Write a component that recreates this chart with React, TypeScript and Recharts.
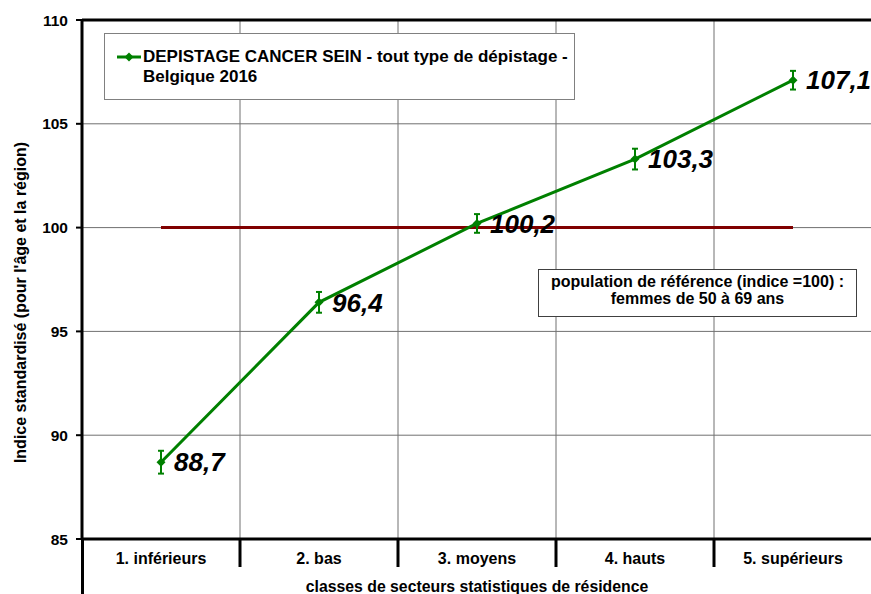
import {
  LineChart,
  Line,
  XAxis,
  YAxis,
  CartesianGrid,
  ReferenceLine,
  ErrorBar,
  LabelList,
  Legend,
} from "recharts"

const categories = ["1. inférieurs", "2. bas", "3. moyens", "4. hauts", "5. supérieurs"]
const indexValues = [88.7, 96.4, 100.2, 103.3, 107.1]
const errorValues = [0.55, 0.5, 0.45, 0.5, 0.45]
const yTicks = [85, 90, 95, 100, 105, 110]
const referenceValue = 100
const seriesName = "DEPISTAGE CANCER SEIN - tout type de dépistage - Belgique 2016"
const yTitle = "Indice standardisé (pour l'âge et la région)"
const xTitle = "classes de secteurs statistiques de résidence"
const noteLines = ["population de référence (indice =100) :", "femmes de 50 à 69 ans"]

const GREEN = "#008000"
const GRID = "#707070"
const FONT = "'Liberation Sans', Arial, sans-serif"

const data = categories.map((name, i) => ({
  pos: i + 1,
  name,
  value: indexValues[i],
  err: errorValues[i],
}))

// category centres carry the labels, half steps carry the separators
const boundaries = categories.slice(1).map((_, i) => i + 1.5)
const xTicks = [...data.map((d) => d.pos), ...boundaries].sort((a, b) => a - b)

function CategoryTick({ x, y, payload }: any) {
  const v = payload.value
  if (Number.isInteger(v)) {
    return (
      <text
        x={x}
        y={y + 19}
        textAnchor="middle"
        dominantBaseline="central"
        fontSize={16}
        fontWeight="bold"
        fill="#000"
      >
        {categories[v - 1]}
      </text>
    )
  }
  return <line x1={x} y1={y} x2={x} y2={y + 28} stroke="#000" strokeWidth={3} />
}

function Diamond({ cx, cy, index }: any) {
  const r = 4.5
  return (
    <path
      key={index}
      d={`M${cx},${cy - r}L${cx + r},${cy}L${cx},${cy + r}L${cx - r},${cy}Z`}
      fill={GREEN}
    />
  )
}

function LegendBox({ payload }: any) {
  const label = payload && payload[0] ? payload[0].value : seriesName
  return (
    <div
      style={{
        boxSizing: "border-box",
        width: 471,
        height: 67,
        border: "1px solid #808080",
        background: "#fff",
        paddingTop: 13,
        paddingLeft: 12,
        display: "flex",
        alignItems: "flex-start",
        fontFamily: FONT,
      }}
    >
      <svg width={26} height={20} style={{ flex: "none" }}>
        <line x1={0} y1={10} x2={24} y2={10} stroke={GREEN} strokeWidth={3} />
        <path d="M12,5.5L16.5,10L12,14.5L7.5,10Z" fill={GREEN} />
      </svg>
      <div
        style={{
          width: 432,
          fontSize: 17,
          fontWeight: "bold",
          lineHeight: "20px",
          color: "#000",
        }}
      >
        {label}
      </div>
    </div>
  )
}

export default function App() {
  return (
    <div
      style={{
        position: "fixed",
        top: 0,
        left: 0,
        width: 871,
        height: 594,
        overflow: "hidden",
        background: "#fff",
        fontFamily: FONT,
      }}
    >
      <LineChart
        width={872}
        height={594}
        data={data}
        margin={{ top: 20, right: 0, bottom: 0, left: 0 }}
      >
        <CartesianGrid vertical={false} stroke={GRID} strokeWidth={1} />
        {boundaries.map((b) => (
          <ReferenceLine key={b} x={b} stroke={GRID} strokeWidth={1} />
        ))}
        <ReferenceLine y={110} stroke="#000" strokeWidth={3} />
        <XAxis
          dataKey="pos"
          type="number"
          domain={[0.5, 5.5]}
          ticks={xTicks}
          interval={0}
          height={55}
          tickLine={false}
          tickSize={0}
          tickMargin={0}
          axisLine={{ stroke: "#000", strokeWidth: 3 }}
          tick={<CategoryTick />}
          label={{
            content: ({ viewBox }: any) => (
              <text
                x={viewBox.x + viewBox.width / 2}
                y={viewBox.y + 53}
                textAnchor="middle"
                fontSize={15.8}
                fontWeight="bold"
                fill="#000"
              >
                {xTitle}
              </text>
            ),
          }}
        />
        <YAxis
          width={82}
          domain={[85, 110]}
          ticks={yTicks}
          interval={0}
          tickSize={6}
          tickMargin={8}
          axisLine={{ stroke: "#000", strokeWidth: 3 }}
          tickLine={{ stroke: "#000", strokeWidth: 2 }}
          tick={{ fontSize: 15.5, fontWeight: "bold", fill: "#000" }}
          label={{
            content: ({ viewBox }: any) => {
              const cx = viewBox.x + 20
              const cy = viewBox.y + viewBox.height / 2 + 23
              return (
                <text
                  transform={`translate(${cx}, ${cy}) rotate(-90)`}
                  textAnchor="middle"
                  dominantBaseline="central"
                  fontSize={16}
                  fontWeight="bold"
                  fill="#000"
                >
                  {yTitle}
                </text>
              )
            },
          }}
        />
        <ReferenceLine
          segment={[
            { x: data[0].pos, y: referenceValue },
            { x: data[data.length - 1].pos, y: referenceValue },
          ]}
          stroke="#800000"
          strokeWidth={3}
        />
        <Legend
          layout="vertical"
          align="center"
          verticalAlign="middle"
          wrapperStyle={{ left: 104, top: 33, width: 471 }}
          content={<LegendBox />}
        />
        <Line
          type="linear"
          dataKey="value"
          name={seriesName}
          stroke={GREEN}
          strokeWidth={3}
          dot={<Diamond />}
          activeDot={false}
          isAnimationActive={false}
        >
          <ErrorBar dataKey="err" direction="y" width={3} strokeWidth={2} stroke={GREEN} />
          <LabelList
            dataKey="value"
            position="right"
            offset={13}
            formatter={(v: any) => String(v).replace(".", ",")}
            fontSize={26}
            fontWeight="bold"
            fontStyle="italic"
            fill="#000"
          />
        </Line>
      </LineChart>
      {/* chart-area border continuing below the plot */}
      <div
        style={{
          position: "absolute",
          left: 80.5,
          top: 539,
          width: 3,
          height: 55,
          background: "#000",
        }}
      />
      <div
        style={{
          position: "absolute",
          left: 538,
          top: 269,
          width: 319,
          height: 48,
          boxSizing: "border-box",
          border: "1px solid #404040",
          background: "#fff",
          textAlign: "center",
          fontSize: 16,
          fontWeight: "bold",
          lineHeight: "17px",
          paddingTop: 3,
          color: "#000",
          whiteSpace: "nowrap",
        }}
      >
        {noteLines[0]}
        <br />
        {noteLines[1]}
      </div>
    </div>
  )
}
